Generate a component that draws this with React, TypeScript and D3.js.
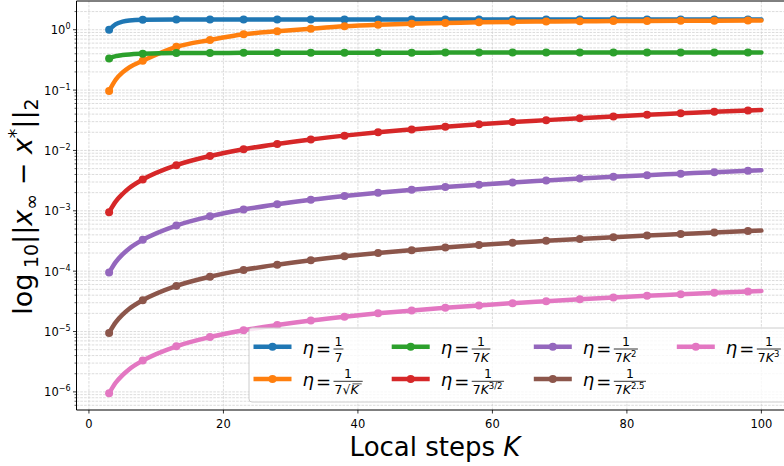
import * as d3 from "d3";

// local steps K where the curves were read (markers every 5 steps from K=3)
const steps = [3, 4, 5, 6, 8, 13, 18, 23, 28, 33, 38, 43, 48, 53, 58, 63, 68, 73, 78, 83, 88, 93, 98, 100];

const etaConst = [1.0, 1.24, 1.36, 1.42, 1.46, 1.48, 1.48, 1.48, 1.48, 1.48, 1.48, 1.48, 1.48, 1.48, 1.48, 1.48, 1.48, 1.48, 1.48, 1.48, 1.48, 1.48, 1.48, 1.48];
const etaSqrt = [0.097, 0.15, 0.196, 0.238, 0.306, 0.52, 0.675, 0.84, 0.94, 1.04, 1.14, 1.21, 1.26, 1.29, 1.33, 1.35, 1.37, 1.38, 1.39, 1.4, 1.41, 1.41, 1.42, 1.42];
const etaK = [0.335, 0.365, 0.38, 0.39, 0.4, 0.41, 0.41, 0.415, 0.415, 0.415, 0.415, 0.415, 0.415, 0.42, 0.42, 0.42, 0.42, 0.42, 0.42, 0.42, 0.42, 0.42, 0.42, 0.42];
const etaK15 = [9.5e-4, 1.43e-3, 1.9e-3, 2.38e-3, 3.3e-3, 5.7e-3, 8.1e-3, 1.05e-2, 1.28e-2, 1.52e-2, 1.76e-2, 2.0e-2, 2.23e-2, 2.47e-2, 2.71e-2, 2.95e-2, 3.18e-2, 3.42e-2, 3.66e-2, 3.9e-2, 4.13e-2, 4.37e-2, 4.61e-2, 4.7e-2];
const etaK2 = [9.5e-5, 1.43e-4, 1.9e-4, 2.38e-4, 3.3e-4, 5.7e-4, 8.1e-4, 1.05e-3, 1.28e-3, 1.52e-3, 1.76e-3, 2.0e-3, 2.23e-3, 2.47e-3, 2.71e-3, 2.95e-3, 3.18e-3, 3.42e-3, 3.66e-3, 3.9e-3, 4.13e-3, 4.37e-3, 4.61e-3, 4.7e-3];
const etaK25 = [9.5e-6, 1.43e-5, 1.9e-5, 2.38e-5, 3.3e-5, 5.7e-5, 8.1e-5, 1.05e-4, 1.28e-4, 1.52e-4, 1.76e-4, 2.0e-4, 2.23e-4, 2.47e-4, 2.71e-4, 2.95e-4, 3.18e-4, 3.42e-4, 3.66e-4, 3.9e-4, 4.13e-4, 4.37e-4, 4.61e-4, 4.7e-4];
const etaK3 = [9.5e-7, 1.43e-6, 1.9e-6, 2.38e-6, 3.3e-6, 5.7e-6, 8.1e-6, 1.05e-5, 1.28e-5, 1.52e-5, 1.76e-5, 2.0e-5, 2.23e-5, 2.47e-5, 2.71e-5, 2.95e-5, 3.18e-5, 3.42e-5, 3.66e-5, 3.9e-5, 4.13e-5, 4.37e-5, 4.61e-5, 4.7e-5];

// legend order (column-major, 4 columns)
const series = [etaConst, etaSqrt, etaK, etaK15, etaK2, etaK25, etaK3];
const colors = ["#1f77b4", "#ff7f0e", "#2ca02c", "#d62728", "#9467bd", "#8c564b", "#e377c2"];
// denominators of eta = 1 / (...)
const denoms = [
  { root: false, K: false, pow: "" },
  { root: true, K: true, pow: "" },
  { root: false, K: true, pow: "" },
  { root: false, K: true, pow: "3/2" },
  { root: false, K: true, pow: "2" },
  { root: false, K: true, pow: "2.5" },
  { root: false, K: true, pow: "3" },
];

const xTicks = [0, 20, 40, 60, 80, 100];
const yExps = [-6, -5, -4, -3, -2, -1, 0];

const W = 784;
const H = 466;
const left = 76.5;
const right = 794;
const top = 1;
const bottom = 410;
const font = "DejaVu Sans, sans-serif";

// rough DejaVu Sans advance widths (em)
const charW: Record<string, number> = { "7": 0.636, "2": 0.636, "3": 0.636, "/": 0.337, ".": 0.318, "5": 0.636 };

function Fraction({ x0, barY, d }: { x0: number; barY: number; d: (typeof denoms)[number] }) {
  const fs = 12.5;
  const supFs = 8.5;
  let w = charW["7"] * fs;
  if (d.root) w += 0.838 * fs;
  const kX = x0 + 1 + w;
  if (d.K) w += 0.7 * fs;
  const kEnd = x0 + 1 + w;
  if (d.pow) w += d.pow.split("").reduce((s, c) => s + (charW[c] || 0.6), 0) * supFs;
  const barW = w + 2;
  const cx = x0 + barW / 2;
  return (
    <g fontFamily={font}>
      <text x={cx} y={barY - 3.5} fontSize={fs} textAnchor="middle">1</text>
      <line x1={x0} x2={x0 + barW} y1={barY} y2={barY} stroke="#000" strokeWidth={0.8} />
      <text x={x0 + 1} y={barY + 12.5} fontSize={fs}>
        <tspan>7</tspan>
        {d.root && <tspan>√</tspan>}
        {d.K && <tspan fontStyle="italic">K</tspan>}
        {d.pow && (
          <tspan fontSize={supFs} dy={-5}>
            {d.pow}
          </tspan>
        )}
      </text>
      {d.root && <line x1={kX - 0.5} x2={kEnd} y1={barY + 2.6} y2={barY + 2.6} stroke="#000" strokeWidth={0.7} />}
    </g>
  );
}

export default function App() {
  const x = d3.scaleLinear([-1.85, 104.85], [left, right]);
  const y = d3.scaleLog([Math.pow(10, -6.3), Math.pow(10, 0.476)], [bottom, top]);
  const line = d3
    .line<[number, number]>()
    .x((d) => x(d[0]))
    .y((d) => y(d[1]))
    .curve(d3.curveMonotoneX);

  const minor: number[] = [];
  for (let e = -7; e <= 0; e++) {
    for (let m = 2; m <= 9; m++) {
      const v = m * Math.pow(10, e);
      if (y(v) <= bottom && y(v) >= top) minor.push(v);
    }
  }

  const colX = [253.5, 391.7, 533.8, 676.8];
  const rowY = [346.7, 379];

  return (
    <svg width={W} height={H} style={{ position: "fixed", left: 0, top: 0, background: "#fff" }} fontFamily={font}>
      <defs>
        <clipPath id="plot">
          <rect x={left} y={top} width={right - left} height={bottom - top} />
        </clipPath>
      </defs>
      <rect x={0} y={0} width={W} height={H} fill="#fff" />
      {/* grid */}
      <g stroke="#b0b0b0" strokeWidth={0.8} strokeDasharray="2.6,1.2" opacity={0.55} clipPath="url(#plot)">
        {minor.map((v, i) => (
          <line key={"m" + i} x1={left} x2={right} y1={y(v)} y2={y(v)} />
        ))}
        {yExps.map((e) => (
          <line key={"M" + e} x1={left} x2={right} y1={y(Math.pow(10, e))} y2={y(Math.pow(10, e))} />
        ))}
        {xTicks.map((t) => (
          <line key={"x" + t} x1={x(t)} x2={x(t)} y1={top} y2={bottom} />
        ))}
      </g>
      {/* series */}
      <g clipPath="url(#plot)">
        {series.map((vals, si) => {
          const pts = steps.map((k, i) => [k, vals[i]] as [number, number]);
          const marks = pts.filter((p) => (p[0] - 3) % 5 === 0 && p[0] <= 98);
          return (
            <g key={si}>
              <path d={line(pts) || ""} fill="none" stroke={colors[si]} strokeWidth={4.5} strokeLinecap="round" />
              {marks.map((p, i) => (
                <circle key={i} cx={x(p[0])} cy={y(p[1])} r={4} fill={colors[si]} />
              ))}
            </g>
          );
        })}
      </g>
      {/* spines */}
      <g stroke="#000" strokeWidth={1} fill="none">
        <line x1={left} x2={left} y1={top} y2={bottom} />
        <line x1={left} x2={right} y1={bottom} y2={bottom} />
        <line x1={left} x2={right} y1={top} y2={top} />
      </g>
      {/* x axis */}
      {xTicks.map((t) => (
        <g key={t}>
          <line x1={x(t)} x2={x(t)} y1={bottom} y2={bottom + 3.5} stroke="#000" strokeWidth={0.8} />
          <text x={x(t)} y={bottom + 18} fontSize={11.5} textAnchor="middle">
            {t}
          </text>
        </g>
      ))}
      {/* y axis */}
      {minor.map((v, i) => (
        <line key={i} x1={left - 2} x2={left} y1={y(v)} y2={y(v)} stroke="#000" strokeWidth={0.6} />
      ))}
      {yExps.map((e) => {
        const py = y(Math.pow(10, e));
        const lab = e < 0 ? "\u2212" + Math.abs(e) : String(e);
        return (
          <g key={e}>
            <line x1={left - 3.5} x2={left} y1={py} y2={py} stroke="#000" strokeWidth={0.8} />
            <text x={left - 6} y={py + 4.5} fontSize={11.5} textAnchor="end">
              <tspan>10</tspan>
              <tspan fontSize={8} dy={-5}>
                {lab}
              </tspan>
            </text>
          </g>
        );
      })}
      {/* axis labels */}
      <text x={435} y={456} fontSize={26} textAnchor="middle">
        Local steps <tspan fontStyle="italic">K</tspan>
      </text>
      <text transform="translate(32,206.5) rotate(-90)" fontSize={27} textAnchor="middle">
        <tspan>{"log\u2009"}</tspan>
        <tspan fontSize={19} dy={6}>10</tspan>
        <tspan dy={-6}>||</tspan>
        <tspan fontStyle="italic">x</tspan>
        <tspan fontSize={19} dy={6}>∞</tspan>
        <tspan dy={-6}>{" \u2212 "}</tspan>
        <tspan fontStyle="italic">x</tspan>
        <tspan fontSize={19} dy={-10}>*</tspan>
        <tspan dy={10}>||</tspan>
        <tspan fontSize={19} dy={6}>2</tspan>
      </text>
      {/* legend */}
      <rect x={249} y={328} width={560} height={74} rx={3} fill="#fff" fillOpacity={0.8} stroke="#cccccc" strokeWidth={1} />
      {series.map((_, i) => {
        const cx = colX[Math.floor(i / 2)];
        const cy = rowY[i % 2];
        return (
          <g key={i}>
            <line x1={cx} x2={cx + 38} y1={cy} y2={cy} stroke={colors[i]} strokeWidth={4.5} />
            <circle cx={cx + 19} cy={cy} r={4} fill={colors[i]} />
            <text x={cx + 49} y={cy + 7} fontSize={18} fontStyle="italic">η</text>
            <text x={cx + 62.5} y={cy + 8.5} fontSize={18}>=</text>
            <Fraction x0={cx + 80} barY={cy + 2.3} d={denoms[i]} />
          </g>
        );
      })}
    </svg>
  );
}
